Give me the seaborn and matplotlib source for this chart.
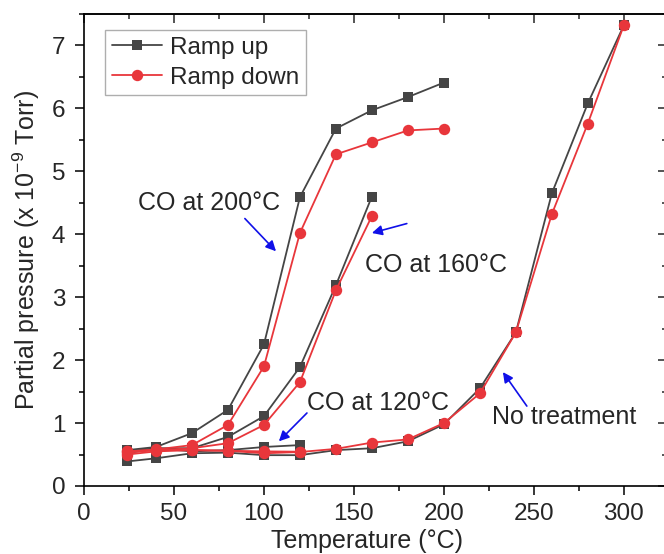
import numpy as np
import pandas as pd
import matplotlib
matplotlib.use("Agg")
import matplotlib.pyplot as plt
from matplotlib.ticker import MultipleLocator
from matplotlib.lines import Line2D
import seaborn as sns

# ---- data ----
T_co200 = [24, 40, 60, 80, 100, 120, 140, 160, 180, 200]
up_co200 = [0.57, 0.62, 0.84, 1.21, 2.25, 4.59, 5.68, 5.97, 6.18, 6.41]
down_co200 = [0.55, 0.58, 0.65, 0.97, 1.90, 4.02, 5.27, 5.46, 5.65, 5.68]

T_co160 = [24, 40, 60, 80, 100, 120, 140, 160]
up_co160 = [0.55, 0.60, 0.60, 0.78, 1.11, 1.89, 3.19, 4.60]
down_co160 = [0.55, 0.57, 0.60, 0.68, 0.97, 1.65, 3.11, 4.29]

T_co120 = [24, 40, 60, 80, 100, 120]
up_co120 = [0.52, 0.60, 0.55, 0.57, 0.62, 0.65]
down_co120 = [0.53, 0.57, 0.57, 0.56, 0.55, 0.545]

T_none = [24, 40, 60, 80, 100, 120, 140, 160, 180, 200, 220, 240, 260, 280, 300]
up_none = [0.39, 0.44, 0.52, 0.53, 0.49, 0.49, 0.57, 0.60, 0.71, 0.98, 1.55, 2.44, 4.65, 6.08, 7.32]
down_none = [0.50, 0.55, 0.57, 0.56, 0.52, 0.54, 0.59, 0.69, 0.74, 1.00, 1.47, 2.44, 4.32, 5.76, 7.32]

ramp_labels = ["Ramp up", "Ramp down"]
x_label = "Temperature (°C)"
y_label = r"Partial pressure (x 10$^{-9}$ Torr)"
x_ticks = [0, 50, 100, 150, 200, 250, 300]
y_ticks = [0, 1, 2, 3, 4, 5, 6, 7]

rows = []
for exp, T, up, down in [("CO200", T_co200, up_co200, down_co200),
                         ("CO160", T_co160, up_co160, down_co160),
                         ("CO120", T_co120, up_co120, down_co120),
                         ("none", T_none, up_none, down_none)]:
    for t, u, d in zip(T, up, down):
        rows.append(dict(T=t, P=u, ramp=ramp_labels[0], exp=exp))
        rows.append(dict(T=t, P=d, ramp=ramp_labels[1], exp=exp))
df = pd.DataFrame(rows)

# ---- style ----
sns.set_style("ticks")
plt.rcParams["font.family"] = ["Liberation Sans", "DejaVu Sans"]
plt.rcParams["mathtext.fontset"] = "custom"
plt.rcParams["mathtext.rm"] = "Liberation Sans"
plt.rcParams["mathtext.it"] = "Liberation Sans:italic"
plt.rcParams["mathtext.bf"] = "Liberation Sans:bold"

FS = 18
TICK_FS = 17.5
LEG_FS = 17.5
GRAY = "#454545"
RED = "#e8363b"
BLUE = "#1010e8"

fig = plt.figure(figsize=(6.64, 5.54), dpi=100)
W, H = 664, 554
ax = fig.add_axes([84 / W, 68 / H, 583 / W, 472 / H])

styles = {ramp_labels[0]: dict(color=GRAY, marker="s", ms=7.2),
          ramp_labels[1]: dict(color=RED, marker="o", ms=8.2)}
for r in ramp_labels:
    st = styles[r]
    sns.lineplot(data=df[df.ramp == r], x="T", y="P", units="exp",
                 estimator=None, sort=False, ax=ax, color=st["color"],
                 marker=st["marker"], markersize=st["ms"],
                 markeredgecolor=st["color"], markeredgewidth=0,
                 linewidth=1.3, legend=False)

ax.set_xlim(0, 324)
ax.set_ylim(0, 7.5)
ax.set_xticks(x_ticks)
ax.set_yticks(y_ticks)
ax.xaxis.set_minor_locator(MultipleLocator(25))
ax.yaxis.set_minor_locator(MultipleLocator(0.5))
ax.tick_params(which="major", direction="out", length=6.5, width=1.1,
               labelsize=TICK_FS, color="black")
ax.tick_params(which="minor", direction="out", length=3.5, width=1.1, color="black")
ax.tick_params(axis="x", which="major", pad=5.5)
ax.tick_params(axis="y", which="major", pad=7)
for s in ax.spines.values():
    s.set_linewidth(1.2)
    s.set_color("black")

secx = ax.secondary_xaxis("top")
secx.set_xticks(x_ticks)
secx.xaxis.set_minor_locator(MultipleLocator(25))
secx.tick_params(which="major", direction="in", length=6.5, width=1.1, labeltop=False)
secx.tick_params(which="minor", direction="in", length=3.5, width=1.1)
secy = ax.secondary_yaxis("right")
secy.set_yticks(y_ticks)
secy.yaxis.set_minor_locator(MultipleLocator(0.5))
secy.tick_params(which="major", direction="in", length=6.5, width=1.1, labelright=False)
secy.tick_params(which="minor", direction="in", length=3.5, width=1.1)
for s in list(secx.spines.values()) + list(secy.spines.values()):
    s.set_linewidth(1.2)

ax.set_xlabel(x_label, fontsize=FS)
ax.set_ylabel(y_label, fontsize=FS)
ax.xaxis.set_label_coords((367 - 84) / 583, (486 - 529) / 472)
ax.yaxis.set_label_coords((42 - 84) / 583, 0.5)

# legend
handles = [Line2D([], [], color=GRAY, marker="s", ms=7.2, mew=0, lw=1.3),
           Line2D([], [], color=RED, marker="o", ms=8.2, mew=0, lw=1.3)]
leg = ax.legend(handles, ramp_labels, loc="upper left",
                bbox_to_anchor=((105 - 84) / 583, 1 - (30 - 14) / 472),
                borderaxespad=0, fontsize=LEG_FS, frameon=True, fancybox=False,
                handlelength=2.05, handletextpad=0.35, borderpad=0.28,
                labelspacing=0.32)
leg.get_frame().set_edgecolor("#9a9a9a")
leg.get_frame().set_linewidth(1.0)

# annotations
ax.text(30, 4.49, "CO at 200°C", fontsize=FS, ha="left", va="center")
ax.text(156, 3.51, "CO at 160°C", fontsize=FS, ha="left", va="center")
ax.text(124, 1.32, "CO at 120°C", fontsize=FS, ha="left", va="center")
ax.text(227, 1.10, "No treatment", fontsize=FS, ha="left", va="center")
arrows = [((89.4, 4.25), (106.7, 3.73)),
          ((179.4, 4.17), (160.0, 4.02)),
          ((123.9, 1.16), (108.3, 0.71)),
          ((246.1, 1.27), (232.8, 1.81))]
for tail, head in arrows:
    ax.annotate("", xy=head, xytext=tail,
                arrowprops=dict(arrowstyle="-|>", color=BLUE, lw=1.2,
                                mutation_scale=15, shrinkA=0, shrinkB=0))

fig.savefig("out.png", dpi=100)
